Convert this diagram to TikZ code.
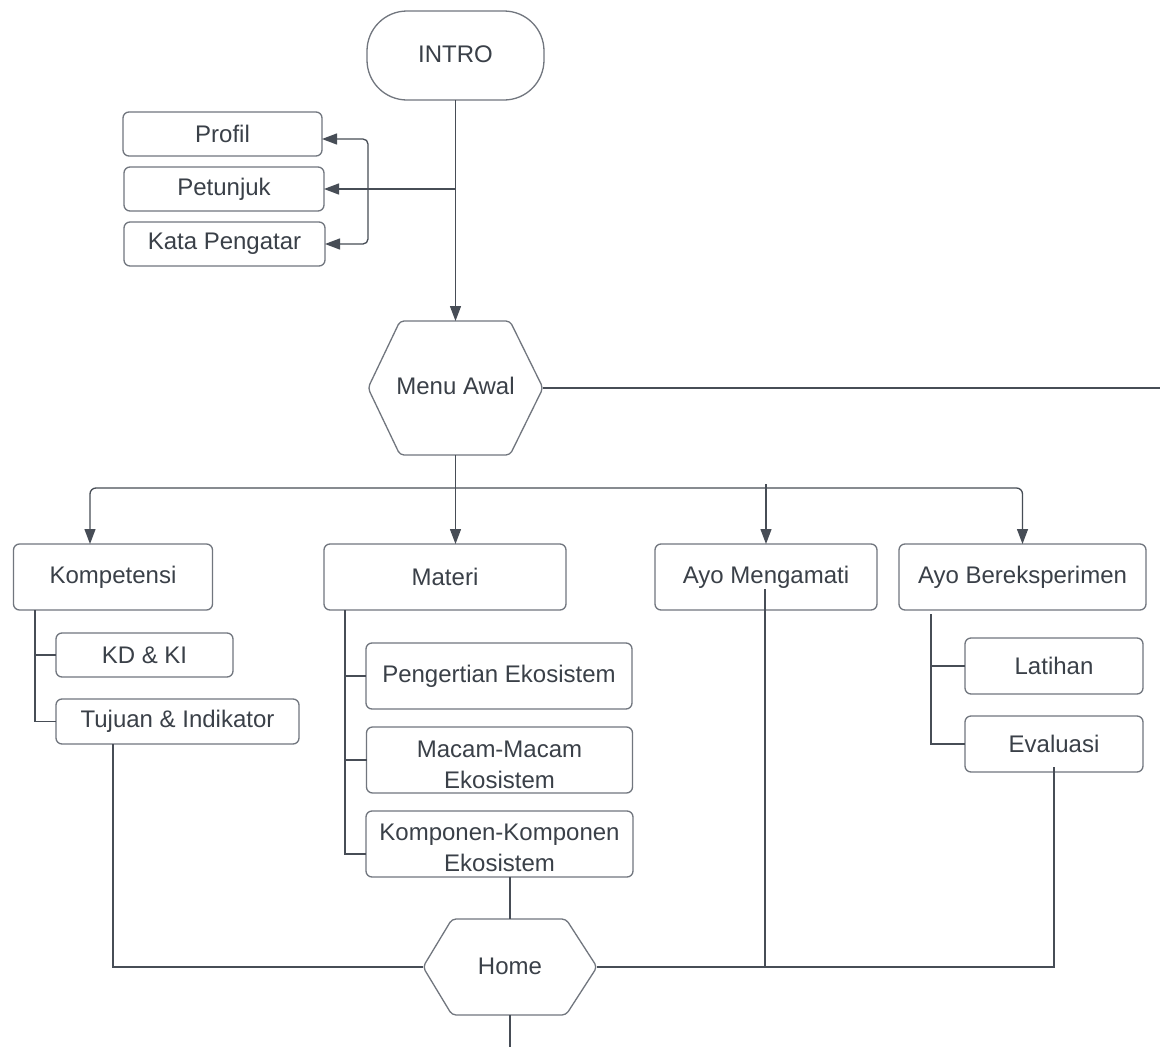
\documentclass[tikz,border=0pt]{standalone}
\usepackage{fontspec}
\setmainfont{Liberation Sans}
\usetikzlibrary{arrows.meta,calc}
\definecolor{linecol}{HTML}{474D56}
\definecolor{boxcol}{HTML}{71767E}
\definecolor{txtcol}{HTML}{3A4048}
\begin{document}
\begin{tikzpicture}[x=1pt,y=-1pt,
  sz/.style 2 args={minimum width=#1pt,minimum height=#2pt},
  box/.style={draw=boxcol,line width=1.3pt,rounded corners=6pt,inner sep=0pt,outer sep=0pt,text=txtcol,font=\fontsize{24}{31.5}\selectfont},
  hexnode/.style={inner sep=0pt,outer sep=0pt,text=txtcol,font=\fontsize{24}{31}\selectfont},
  hexline/.style={draw=boxcol,line width=1.3pt,rounded corners=4pt},
  conn/.style={draw=linecol,line width=1.3pt},
  arr/.style={conn,-{Triangle[length=15pt,width=11pt]}}]
\fill[white] (0,0) rectangle (1160,1047);
\useasboundingbox (0,0) rectangle (1160,1047);

% nodes
\node[box,rounded corners=40pt,sz={177}{89}] (intro) at (455.5,55.5) {\raisebox{2pt}{INTRO}};
\node[box,sz={199}{44}] (profil) at (222.5,134) {Profil};
\node[box,sz={200}{44}] (petunjuk) at (224,189) {Petunjuk};
\node[box,sz={201}{44}] (kata) at (224.5,244) {Kata Pengatar};

\node[hexnode,sz={175}{134}] (menu) at (455.5,388) {\raisebox{4pt}{Menu Awal}};
\draw[hexline] (menu.west) -- ([xshift=32pt]menu.north west) -- ([xshift=-33pt]menu.north east)
  -- (menu.east) -- ([xshift=-33pt]menu.south east) -- ([xshift=32pt]menu.south west) -- cycle;

\node[box,sz={199}{66}] (kompetensi) at (113,577) {\raisebox{1pt}{Kompetensi}};
\node[box,sz={242}{66}] (materi) at (445,577) {\raisebox{1pt}{Materi}};
\node[box,sz={222}{66}] (mengamati) at (766,577) {\raisebox{1pt}{Ayo Mengamati}};
\node[box,sz={247}{66}] (bereks) at (1022.5,577) {\raisebox{1pt}{Ayo Bereksperimen}};

\node[box,sz={177}{44}] (kdki) at (144.5,655) {KD \& KI};
\node[box,sz={243}{45}] (tujuan) at (177.5,721.5) {Tujuan \& Indikator};

\node[box,sz={266}{66}] (pengertian) at (499,676) {Pengertian Ekosistem};
\node[box,sz={266}{66}] (macam) at (499.5,760) {\raisebox{-13pt}[0pt][0pt]{\begin{tabular}{@{}c@{}}Macam-Macam\\Ekosistem\end{tabular}}};
\node[box,sz={267}{66}] (komponen) at (499.5,844) {\raisebox{-12pt}[0pt][0pt]{\begin{tabular}{@{}c@{}}Komponen-Komponen\\Ekosistem\end{tabular}}};

\node[box,sz={178}{56}] (latihan) at (1054,666) {Latihan};
\node[box,sz={178}{56}] (evaluasi) at (1054,744) {Evaluasi};

\node[hexnode,sz={174}{96}] (home) at (510,967) {\raisebox{2pt}{Home}};
\draw[hexline] (home.west) -- ([xshift=29pt]home.north west) -- ([xshift=-31pt]home.north east)
  -- (home.east) -- ([xshift=-31pt]home.south east) -- ([xshift=29pt]home.south west) -- cycle;

% helper coordinates
\coordinate (br) at (368,189);
\coordinate (bj) at (455.5,488);
\coordinate (ka) at (90,0);
\coordinate (kv) at (35,0);
\coordinate (mv) at (345,0);
\coordinate (bv) at (931,0);
\coordinate (tv) at (113,0);
\coordinate (rt) at (1160,0);
\coordinate (bot) at (0,1047);

% intro connectors
\draw[arr] (intro.south) -- (menu.north);
\draw[arr] (intro.south |- petunjuk.east) -- (petunjuk.east);
\draw[arr,rounded corners=5pt] (br) |- ([yshift=-5pt]profil.east);
\draw[arr,rounded corners=5pt] (br) |- (kata.east);

% menu connectors
\draw[conn] (menu.east) -- (menu.east -| rt);
\draw[arr] (menu.south) -- (menu.south |- materi.north);
\draw[arr,rounded corners=6pt] (bj) -| (ka |- kompetensi.north);
\draw[arr,rounded corners=6pt] (bj) -| (bereks.north);
\draw[arr] ($(mengamati.north |- bj)+(0,-4)$) -- (mengamati.north);

% subtrees
\draw[conn] (kv |- kompetensi.south) |- (tujuan.west);
\draw[conn] (kv |- kdki.west) -- (kdki.west);
\draw[conn] (mv |- materi.south) |- ($(komponen.west)+(0,10)$);
\draw[conn] (mv |- pengertian.west) -- (pengertian.west);
\draw[conn] (mv |- macam.west) -- (macam.west);
\draw[conn] ($(bv |- bereks.south)+(0,4)$) |- (evaluasi.west);
\draw[conn] (bv |- latihan.west) -- (latihan.west);

% to home
\draw[conn] (tv |- tujuan.south) |- (home.west);
\draw[conn] (home.north |- komponen.south) -- (home.north);
\draw[conn] ($(mengamati.center)+(-1,12)$) -- ($(mengamati.center |- home.east)+(-1,0)$);
\draw[conn] ($(evaluasi.south)+(0,-5)$) |- (home.east);
\draw[conn] (home.south) -- (home.south |- bot);
\end{tikzpicture}
\end{document}
